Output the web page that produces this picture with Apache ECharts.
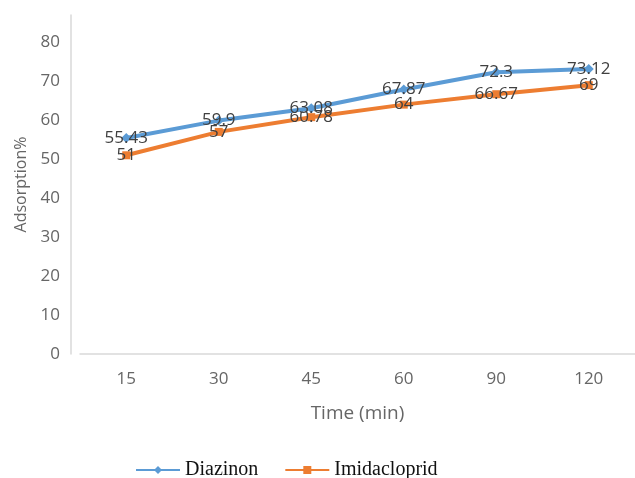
<!DOCTYPE html>
<html>
<head>
<meta charset="utf-8">
<script src="https://cdn.jsdelivr.net/npm/echarts@6/dist/echarts.min.js"></script>
<style>
  html, body { margin: 0; padding: 0; background: #ffffff; }
  #chart { width: 635px; height: 478px; }
</style>
</head>
<body>
<div id="chart"></div>
<script>
// Adsorption (%) over contact time for two pesticides
const timeCategories = ['15', '30', '45', '60', '90', '120'];
const diazinon = [55.43, 59.9, 63.08, 67.87, 72.3, 73.12];
const imidacloprid = [51, 57, 60.78, 64, 66.67, 69];

const labelStyle = {
  show: true,
  position: 'inside',
  color: '#404040',
  fontFamily: 'Open Sans',
  fontSize: 17
};

const chart = echarts.init(document.getElementById('chart'));
chart.setOption({
  backgroundColor: '#ffffff',
  animation: false,
  grid: { left: 80, top: 15, width: 564, height: 339 },
  xAxis: {
    type: 'category',
    data: timeCategories,
    name: 'Time (min)',
    nameLocation: 'middle',
    nameGap: 50,
    nameTextStyle: { color: '#666666', fontFamily: 'Open Sans', fontSize: 19 },
    axisLine: { lineStyle: { color: '#d9d9d9', width: 1.5 } },
    axisTick: { show: false },
    axisLabel: { color: '#666666', fontFamily: 'Open Sans', fontSize: 17, margin: 17 }
  },
  yAxis: {
    type: 'value',
    min: 0,
    max: 87,
    interval: 10,
    offset: 9,
    name: 'Adsorption%',
    nameLocation: 'middle',
    nameGap: 42,
    nameTextStyle: { color: '#666666', fontFamily: 'Open Sans', fontSize: 16 },
    axisLine: { show: true, lineStyle: { color: '#d9d9d9', width: 1.5 } },
    axisTick: { show: false },
    splitLine: { show: false },
    axisLabel: { color: '#666666', fontFamily: 'Open Sans', fontSize: 17, margin: 11, showMaxLabel: false }
  },
  legend: {
    left: 130,
    top: 455,
    itemWidth: 44,
    itemHeight: 10,
    itemGap: 26,
    textStyle: { color: '#111111', fontFamily: 'Liberation Serif', fontSize: 20, lineHeight: 20 },
    data: ['Diazinon', 'Imidacloprid']
  },
  series: [
    {
      name: 'Diazinon',
      type: 'line',
      data: diazinon,
      symbol: 'diamond',
      symbolSize: 10,
      lineStyle: { color: '#5b9bd5', width: 4 },
      itemStyle: { color: '#5b9bd5' },
      label: labelStyle,
      z: 3
    },
    {
      name: 'Imidacloprid',
      type: 'line',
      data: imidacloprid,
      symbol: 'rect',
      symbolSize: 8,
      lineStyle: { color: '#ed7d31', width: 4 },
      itemStyle: { color: '#ed7d31' },
      label: labelStyle,
      z: 2
    }
  ]
});
</script>
</body>
</html>
